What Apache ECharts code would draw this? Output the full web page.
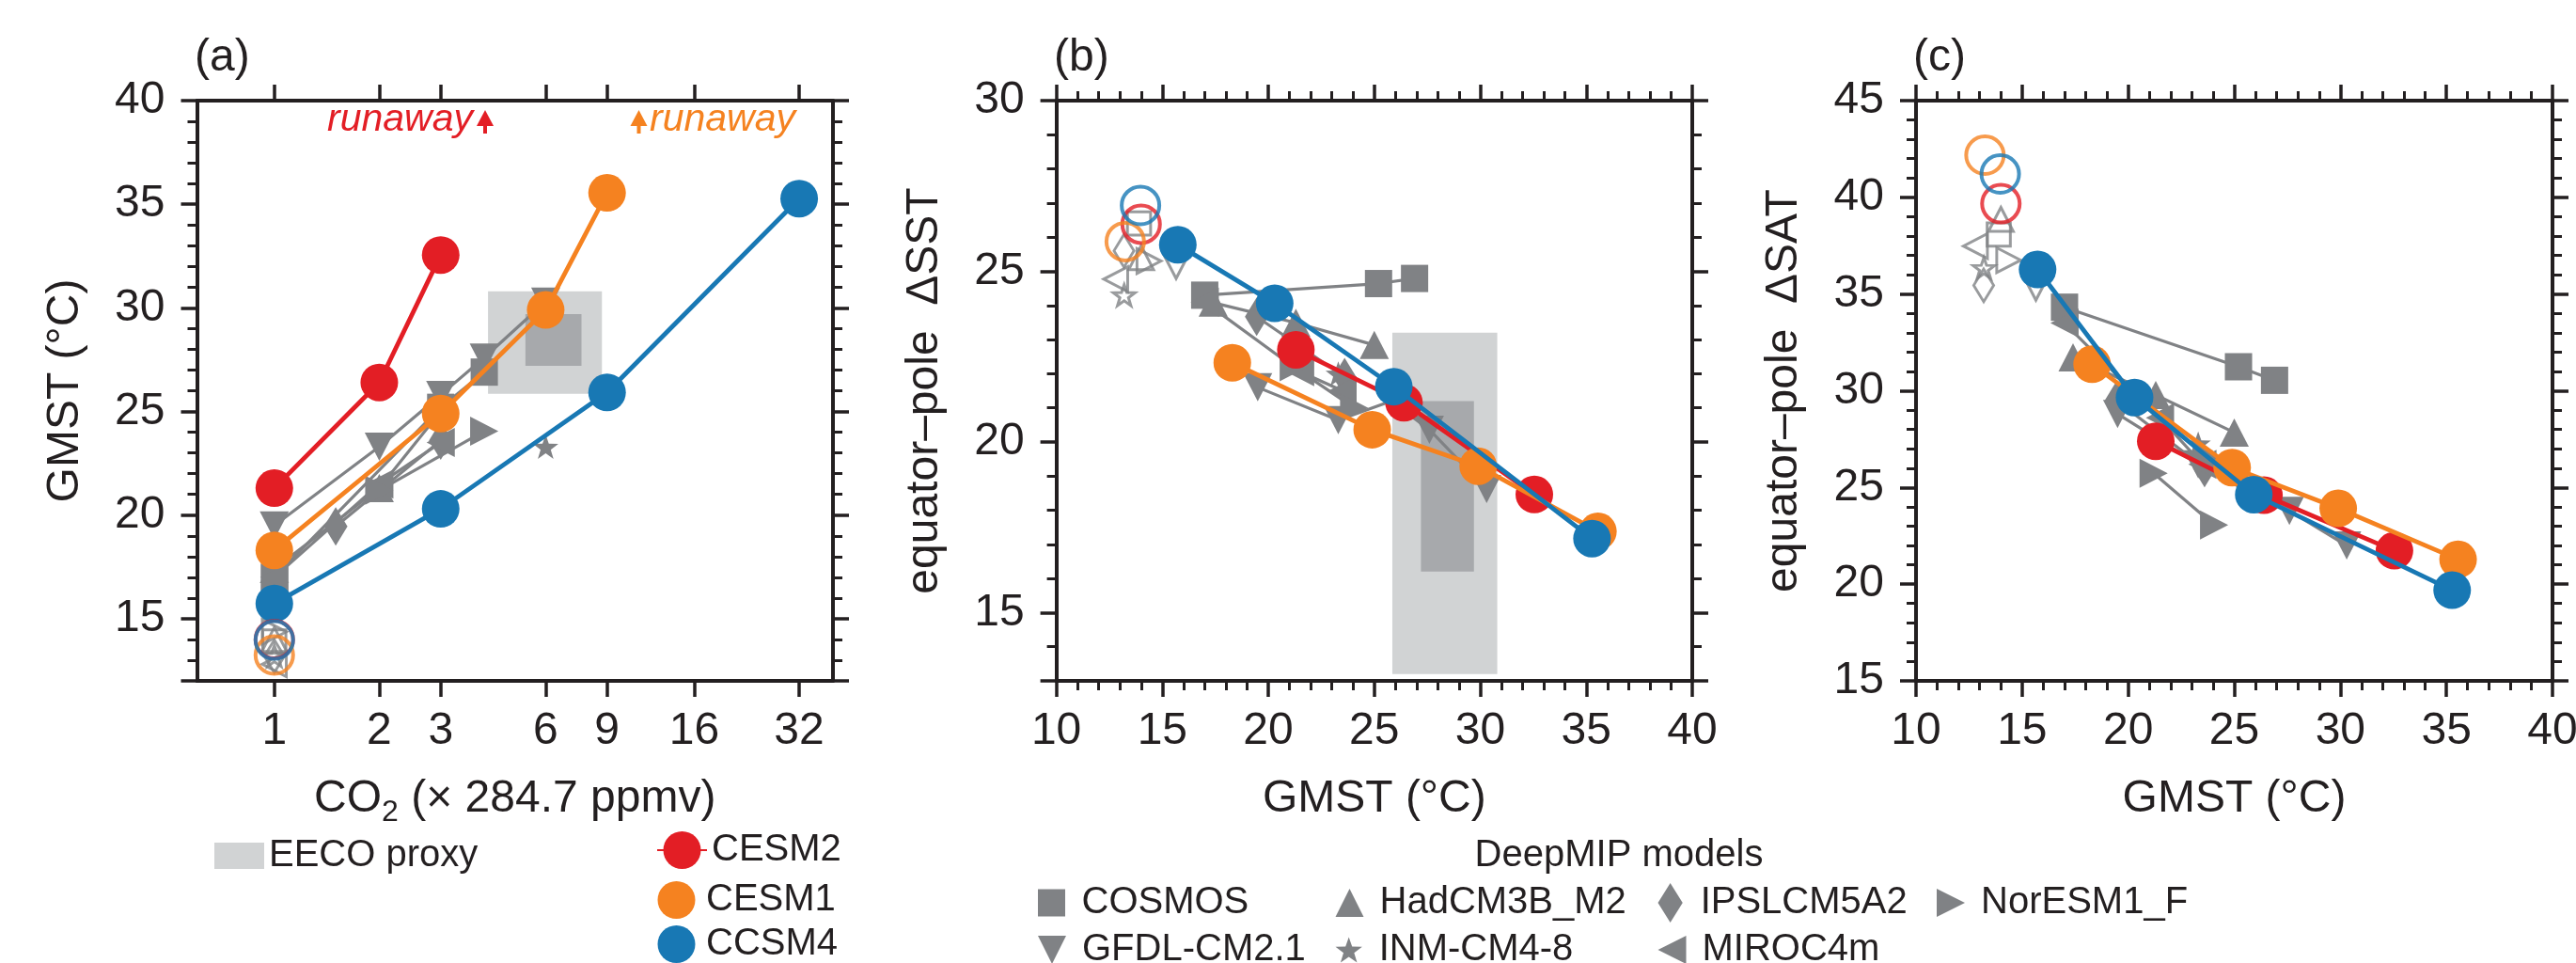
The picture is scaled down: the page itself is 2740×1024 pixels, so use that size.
<!DOCTYPE html>
<html>
<head>
<meta charset="utf-8">
<script src="https://cdn.jsdelivr.net/npm/echarts@6/dist/echarts.min.js"></script>
<style>html,body{margin:0;padding:0;background:#fff}#c{width:2740px;height:1024px}</style>
</head>
<body>
<div id="c"></div>
<script>
// ---------------- DATA ----------------
const co2TickLabels = [1, 2, 3, 6, 9, 16, 32];

// CESM2 / CESM1 / CCSM4 (CO2 multiple, GMST, equator-pole dSST, dSAT)
const cesm2CO2 = [1, 2, 3];
const cesm2GMST = [21.3, 26.4, 32.55];
const cesm2DSST = [22.7, 21.15, 18.46];
const cesm2DSAT = [27.39, 24.6, 21.73];

const cesm1CO2 = [1, 3, 6, 9];
const cesm1GMST = [18.3, 24.9, 29.9, 35.55];
const cesm1DSST = [22.32, 20.36, 19.29, 17.38];
const cesm1DSAT = [31.37, 26.03, 23.92, 21.28];

const ccsm4CO2 = [1, 3, 9, 32];
const ccsm4GMST = [15.73, 20.3, 25.92, 35.27];
const ccsm4DSST = [25.78, 24.06, 21.62, 17.17];
const ccsm4DSAT = [36.27, 29.65, 24.63, 19.69];

// DeepMIP models
const cosmosCO2 = [1, 3, 4];
const cosmosGMST = [17.0, 25.2, 26.9];
const cosmosDSST = [24.3, 24.64, 24.79];
const cosmosDSAT = [34.32, 31.24, 30.54];

const gfdlCO2 = [1, 2, 3, 4, 6];
const gfdlGMST = [19.5, 23.3, 25.8, 27.6, 30.3];
const gfdlDSST = [21.6, 20.64, 21.2, 20.36, 18.62];
const gfdlDSAT = [28.8, 26.2, 24.7, 23.79, 22.0];

const hadcmCO2 = [1, 2, 3];
const hadcmGMST = [17.4, 21.3, 25.0];
const hadcmDSST = [24.08, 23.49, 22.84];
const hadcmDSAT = [31.73, 29.78, 27.84];

const inmCO2 = [6];
const inmGMST = [23.3];
const inmDSST = [22.0];
const inmDSAT = [27.27];

const ipslCO2 = [1.5, 3];
const ipslGMST = [19.45, 23.6];
const ipslDSST = [23.67, 21.9];
const ipslDSAT = [29.5, 26.0];

const mirocCO2 = [1, 2, 3];
const mirocGMST = [17.0, 21.5, 23.5];
const mirocDSST = [24.1, 22.06, 21.5];
const mirocDSAT = [33.5, 28.6, 26.2];

const noresmCO2 = [2, 4];
const noresmGMST = [21.2, 24.05];
const noresmDSST = [22.2, 21.0];
const noresmDSAT = [25.73, 23.06];

// Pre-industrial (open symbols, plotted at 1x CO2)
const piModels = ['CESM2', 'CESM1', 'CCSM4', 'COSMOS', 'GFDL-CM2.1', 'HadCM3B_M2', 'INM-CM4-8', 'IPSLCM5A2', 'MIROC4m', 'NorESM1_F'];
const piGMST = [14.0, 13.25, 13.97, 13.9, 15.65, 14.0, 13.2, 13.19, 12.8, 14.37];
const piDSST = [26.38, 25.87, 26.93, 26.4, 25.14, 25.4, 24.3, 25.6, 24.77, 25.3];
const piDSAT = [39.67, 42.18, 41.21, 38.08, 35.3, 38.86, 36.35, 35.45, 37.48, 36.75];

// EECO proxy ranges
const eecoGMSTOuter = [25.85, 30.8];
const eecoGMSTInner = [27.2, 29.7];
const eecoCO2Outer = [4.1, 8.7];
const eecoCO2Inner = [5.25, 7.6];
const eecoDSSTOuter = [13.2, 23.2];
const eecoDSSTInner = [16.2, 21.2];

// ---------------- STYLE ----------------
const RED = '#e31e25', ORANGE = '#f58220', BLUE = '#1878b4', GRAY = '#808285';
const INK = '#231f20', LIGHT = '#d1d3d4', DARK = '#a7a9ac';
const FONT = '"Liberation Sans", Arial, Helvetica, sans-serif';

const SYM_SQUARE = 'path://M0,0L20,0L20,20L0,20Z';
const SYM_UP = 'path://M10,0L20,20L0,20Z';
const SYM_DOWN = 'path://M0,0L20,0L10,20Z';
const SYM_LEFT = 'path://M20,0L20,20L0,10Z';
const SYM_RIGHT = 'path://M0,0L20,10L0,20Z';
const SYM_DIAMOND = 'path://M10,0L20,16L10,32L0,16Z';
const SYM_STAR = 'path://M100,0L123.5,67.6L195.1,69.1L138,112.4L158.8,180.9L100,140L41.2,180.9L62,112.4L4.9,69.1L76.5,67.6Z';

const coloredModels = [
  {name: 'CESM2', color: RED, co2: cesm2CO2, gmst: cesm2GMST, dsst: cesm2DSST, dsat: cesm2DSAT},
  {name: 'CESM1', color: ORANGE, co2: cesm1CO2, gmst: cesm1GMST, dsst: cesm1DSST, dsat: cesm1DSAT},
  {name: 'CCSM4', color: BLUE, co2: ccsm4CO2, gmst: ccsm4GMST, dsst: ccsm4DSST, dsat: ccsm4DSAT}
];
const grayModels = [
  {name: 'COSMOS', sym: SYM_SQUARE, size: [29, 29], co2: cosmosCO2, gmst: cosmosGMST, dsst: cosmosDSST, dsat: cosmosDSAT},
  {name: 'GFDL-CM2.1', sym: SYM_DOWN, size: [31, 30], co2: gfdlCO2, gmst: gfdlGMST, dsst: gfdlDSST, dsat: gfdlDSAT},
  {name: 'HadCM3B_M2', sym: SYM_UP, size: [31, 30], co2: hadcmCO2, gmst: hadcmGMST, dsst: hadcmDSST, dsat: hadcmDSAT},
  {name: 'INM-CM4-8', sym: SYM_STAR, size: [27, 26], co2: inmCO2, gmst: inmGMST, dsst: inmDSST, dsat: inmDSAT},
  {name: 'IPSLCM5A2', sym: SYM_DIAMOND, size: [25, 41], co2: ipslCO2, gmst: ipslGMST, dsst: ipslDSST, dsat: ipslDSAT},
  {name: 'MIROC4m', sym: SYM_LEFT, size: [30, 31], co2: mirocCO2, gmst: mirocGMST, dsst: mirocDSST, dsat: mirocDSAT},
  {name: 'NorESM1_F', sym: SYM_RIGHT, size: [30, 31], co2: noresmCO2, gmst: noresmGMST, dsst: noresmDSST, dsat: noresmDSAT}
];

const LX = Math.log2;
function pts(g, m) {
  if (g === 0) return m.co2.map((c, i) => [LX(c), m.gmst[i]]);
  if (g === 1) return m.gmst.map((v, i) => [v, m.dsst[i]]);
  return m.gmst.map((v, i) => [v, m.dsat[i]]);
}
function piPoint(g, k) {
  if (g === 0) return [[LX(1), piGMST[k]]];
  if (g === 1) return [[piGMST[k], piDSST[k]]];
  return [[piGMST[k], piDSAT[k]]];
}

// ---------------- AXES ----------------
const axisLine = {show: true, onZero: false, lineStyle: {color: INK, width: 4}};
const tickStyle = {color: INK, width: 3.5};
const minor = {show: true, splitNumber: 5, length: 10, lineStyle: {color: INK, width: 3}};
const labelBase = {show: true, fontSize: 48, fontFamily: FONT, color: INK};
const nameStyle = {fontSize: 48, fontFamily: FONT, color: INK, lineHeight: 60};
const co2TickPos = co2TickLabels.map(v => LX(v));

function ax(o) {
  return Object.assign({
    type: 'value', axisLine: axisLine, splitLine: {show: false}, minorSplitLine: {show: false},
    nameMoveOverlap: false, silent: true
  }, o);
}

const xAxis = [
  ax({gridIndex: 0, position: 'bottom', min: LX(0.6), max: LX(40),
      axisTick: {show: true, length: 17, lineStyle: tickStyle, customValues: co2TickPos},
      minorTick: {show: false},
      axisLabel: Object.assign({}, labelBase, {margin: 30, customValues: co2TickPos,
        formatter: v => String(Math.round(Math.pow(2, v)))}),
      name: '{m|CO}{s|2}{m| (× 284.7 ppmv)}', nameLocation: 'middle', nameGap: 96,
      nameTextStyle: {lineHeight: 60, rich: {
        m: {fontSize: 48, fontFamily: FONT, color: INK, lineHeight: 60},
        s: {fontSize: 32, fontFamily: FONT, color: INK, lineHeight: 34, verticalAlign: 'bottom'}
      }}}),
  ax({gridIndex: 0, position: 'top', min: LX(0.6), max: LX(40),
      axisTick: {show: true, length: 17, lineStyle: tickStyle, customValues: co2TickPos},
      minorTick: {show: false}, axisLabel: {show: false}}),
  ax({gridIndex: 1, position: 'bottom', min: 10, max: 40, interval: 5,
      axisTick: {show: true, length: 17, lineStyle: tickStyle}, minorTick: minor,
      axisLabel: Object.assign({}, labelBase, {margin: 30}),
      name: 'GMST (°C)', nameLocation: 'middle', nameGap: 96, nameTextStyle: nameStyle}),
  ax({gridIndex: 1, position: 'top', min: 10, max: 40, interval: 5,
      axisTick: {show: true, length: 17, lineStyle: tickStyle}, minorTick: minor, axisLabel: {show: false}}),
  ax({gridIndex: 2, position: 'bottom', min: 10, max: 40, interval: 5,
      axisTick: {show: true, length: 17, lineStyle: tickStyle}, minorTick: minor,
      axisLabel: Object.assign({}, labelBase, {margin: 30}),
      name: 'GMST (°C)', nameLocation: 'middle', nameGap: 96, nameTextStyle: nameStyle}),
  ax({gridIndex: 2, position: 'top', min: 10, max: 40, interval: 5,
      axisTick: {show: true, length: 17, lineStyle: tickStyle}, minorTick: minor, axisLabel: {show: false}})
];

const yAxis = [
  ax({gridIndex: 0, position: 'left', min: 12, max: 40, minInterval: 5, maxInterval: 5,
      axisTick: {show: true, length: 17, lineStyle: tickStyle}, minorTick: minor,
      axisLabel: Object.assign({}, labelBase, {margin: 34, showMinLabel: false}),
      name: 'GMST (°C)', nameLocation: 'middle', nameGap: 110, nameTextStyle: nameStyle}),
  ax({gridIndex: 0, position: 'right', min: 12, max: 40, minInterval: 5, maxInterval: 5,
      axisTick: {show: true, length: 17, lineStyle: tickStyle}, minorTick: minor, axisLabel: {show: false}}),
  ax({gridIndex: 1, position: 'left', min: 13, max: 30, minInterval: 5, maxInterval: 5,
      axisTick: {show: true, length: 17, lineStyle: tickStyle}, minorTick: minor,
      axisLabel: Object.assign({}, labelBase, {margin: 34, showMinLabel: false}),
      name: 'equator–pole  ΔSST', nameLocation: 'middle', nameGap: 110, nameTextStyle: nameStyle}),
  ax({gridIndex: 1, position: 'right', min: 13, max: 30, minInterval: 5, maxInterval: 5,
      axisTick: {show: true, length: 17, lineStyle: tickStyle}, minorTick: minor, axisLabel: {show: false}}),
  ax({gridIndex: 2, position: 'left', min: 15, max: 45, interval: 5,
      axisTick: {show: true, length: 17, lineStyle: tickStyle}, minorTick: minor,
      axisLabel: Object.assign({}, labelBase, {margin: 34}),
      name: 'equator–pole  ΔSAT', nameLocation: 'middle', nameGap: 110, nameTextStyle: nameStyle}),
  ax({gridIndex: 2, position: 'right', min: 15, max: 45, interval: 5,
      axisTick: {show: true, length: 17, lineStyle: tickStyle}, minorTick: minor, axisLabel: {show: false}})
];

const grid = [
  {left: 209.5, top: 107, width: 676.5, height: 617, outerBoundsMode: 'none', containLabel: false},
  {left: 1123.6, top: 107, width: 676.4, height: 617, outerBoundsMode: 'none', containLabel: false},
  {left: 2038, top: 107, width: 677, height: 617, outerBoundsMode: 'none', containLabel: false}
];

// ---------------- SERIES ----------------
function rectRender(params, api) {
  const a = api.coord([api.value(0), api.value(3)]);
  const b = api.coord([api.value(1), api.value(2)]);
  return {type: 'rect', shape: {x: a[0], y: a[1], width: b[0] - a[0], height: b[1] - a[1]},
          style: {fill: api.value(4) ? DARK : LIGHT}};
}
const series = [];
series.push({type: 'custom', name: 'EECO proxy', xAxisIndex: 0, yAxisIndex: 0, z: 1, silent: true,
  itemStyle: {color: LIGHT}, renderItem: rectRender, encode: {x: [0, 1], y: [2, 3]},
  data: [[LX(eecoCO2Outer[0]), LX(eecoCO2Outer[1]), eecoGMSTOuter[0], eecoGMSTOuter[1], 0],
         [LX(eecoCO2Inner[0]), LX(eecoCO2Inner[1]), eecoGMSTInner[0], eecoGMSTInner[1], 1]]});
series.push({type: 'custom', name: 'EECO proxy', xAxisIndex: 2, yAxisIndex: 2, z: 1, silent: true,
  itemStyle: {color: LIGHT}, renderItem: rectRender, encode: {x: [0, 1], y: [2, 3]},
  data: [[eecoGMSTOuter[0], eecoGMSTOuter[1], eecoDSSTOuter[0], eecoDSSTOuter[1], 0],
         [eecoGMSTInner[0], eecoGMSTInner[1], eecoDSSTInner[0], eecoDSSTInner[1], 1]]});

for (let g = 0; g < 3; g++) {
  grayModels.forEach((m) => {
    const k = piModels.indexOf(m.name);
    series.push({type: 'scatter', name: m.name + ' PI', xAxisIndex: 2 * g, yAxisIndex: 2 * g, z: 2, silent: true,
      symbol: m.sym, symbolSize: [m.size[0] * 0.85, m.size[1] * 0.85],
      itemStyle: {color: 'rgba(0,0,0,0)', borderColor: GRAY, borderWidth: 3},
      data: piPoint(g, k)});
  });
  grayModels.forEach((m) => {
    series.push({type: 'line', name: m.name, xAxisIndex: 2 * g, yAxisIndex: 2 * g, z: 3, silent: true,
      symbol: m.sym, symbolSize: m.size, showAllSymbol: true,
      lineStyle: {color: GRAY, width: 3.2}, itemStyle: {color: GRAY},
      emphasis: {disabled: true}, data: pts(g, m)});
  });
}
for (let g = 0; g < 3; g++) {
  coloredModels.forEach((m, i) => {
    series.push({type: 'line', name: m.name, xAxisIndex: 2 * g, yAxisIndex: 2 * g, z: 5 + i, silent: true,
      symbol: 'circle', symbolSize: 40, showAllSymbol: true,
      lineStyle: {color: m.color, width: 4.8}, itemStyle: {color: m.color},
      emphasis: {disabled: true}, data: pts(g, m)});
  });
  coloredModels.forEach((m, i) => {
    const k = piModels.indexOf(m.name);
    series.push({type: 'scatter', name: m.name + ' PI', xAxisIndex: 2 * g, yAxisIndex: 2 * g, z: 9, silent: true,
      symbol: 'circle', symbolSize: 40,
      itemStyle: {color: 'rgba(0,0,0,0)', borderColor: m.color, borderWidth: 4},
      data: piPoint(g, k)});
  });
}

// ---------------- LEGENDS ----------------
const legText = {fontSize: 40, fontFamily: FONT, color: INK};
function leg(o) {
  return Object.assign({selectedMode: false, symbolKeepAspect: true, padding: 0, textStyle: legText}, o);
}
const legend = [
  leg({data: [{name: 'EECO proxy', icon: 'rect', itemStyle: {color: LIGHT}}], left: 228, top: 890,
       itemWidth: 53, itemHeight: 28, symbolKeepAspect: false}),
  leg({data: [{name: 'CESM2'}], left: 698, top: 884, itemWidth: 53, itemHeight: 50}),
  leg({data: [{name: 'CESM1', icon: 'circle'}, {name: 'CCSM4', icon: 'circle'}], orient: 'vertical',
       left: 699.5, top: 937, itemWidth: 53, itemHeight: 40, itemGap: 7}),
  leg({data: [{name: 'COSMOS', icon: SYM_SQUARE}], left: 1104, top: 940, itemWidth: 54, itemHeight: 29}),
  leg({data: [{name: 'GFDL-CM2.1', icon: SYM_DOWN}], left: 1104, top: 990, itemWidth: 54, itemHeight: 30}),
  leg({data: [{name: 'HadCM3B_M2', icon: SYM_UP}], left: 1420.5, top: 940, itemWidth: 54, itemHeight: 30}),
  leg({data: [{name: 'INM-CM4-8', icon: SYM_STAR}], left: 1420.5, top: 990, itemWidth: 54, itemHeight: 27}),
  leg({data: [{name: 'IPSLCM5A2', icon: SYM_DIAMOND}], left: 1763.5, top: 939, itemWidth: 54, itemHeight: 42}),
  leg({data: [{name: 'MIROC4m', icon: SYM_LEFT}], left: 1763.5, top: 990, itemWidth: 54, itemHeight: 30}),
  leg({data: [{name: 'NorESM1_F', icon: SYM_RIGHT}], left: 2060, top: 940, itemWidth: 54, itemHeight: 30})
];

// ---------------- ANNOTATIONS ----------------
function txt(x, y, text, opts) {
  return {type: 'text', x: x, y: y, silent: true, style: Object.assign({text: text, fill: INK, fontSize: 48,
    fontFamily: FONT, align: 'left', verticalAlign: 'middle'}, opts || {})};
}
function arrow(cx, color) {
  return [
    {type: 'polygon', silent: true, shape: {points: [[cx, 117], [cx + 9, 134], [cx - 9, 134]]}, style: {fill: color}},
    {type: 'rect', silent: true, shape: {x: cx - 2, y: 132, width: 4, height: 10}, style: {fill: color}}
  ];
}
const graphic = [
  txt(207, 62, '(a)'), txt(1121, 62, '(b)'), txt(2035, 62, '(c)'),
  txt(503, 128, 'runaway', {fill: RED, fontSize: 41, fontStyle: 'italic', align: 'right'}),
  txt(691, 128, 'runaway', {fill: ORANGE, fontSize: 41, fontStyle: 'italic', align: 'left'}),
  txt(1722, 910, 'DeepMIP models', {fontSize: 40, align: 'center'})
].concat(arrow(516, RED), arrow(679.5, ORANGE));

const chart = echarts.init(document.getElementById('c'), null, {renderer: 'canvas', width: 2740, height: 1024});
chart.setOption({
  animation: false,
  backgroundColor: '#ffffff',
  textStyle: {fontFamily: FONT},
  grid: grid, xAxis: xAxis, yAxis: yAxis, series: series, legend: legend, graphic: graphic
});
</script>
</body>
</html>
